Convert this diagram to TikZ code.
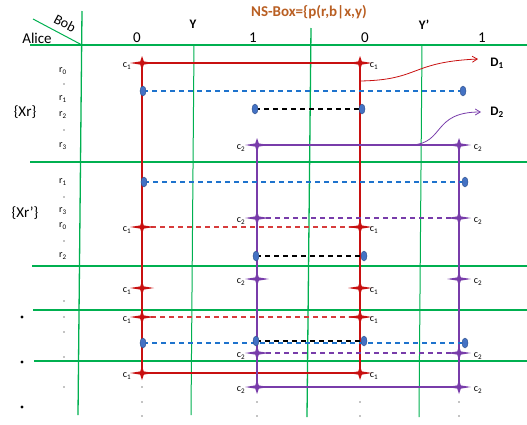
\documentclass[tikz,border=0pt]{standalone}
\usepackage{fontspec}
\setmainfont{Carlito}
\usetikzlibrary{shapes.geometric,arrows.meta,calc}
\definecolor{gr}{RGB}{0,176,80}
\definecolor{rd}{RGB}{200,16,16}
\definecolor{rdd}{RGB}{215,60,60}
\definecolor{pu}{RGB}{120,60,170}
\definecolor{bl}{RGB}{30,115,205}
\definecolor{ell}{RGB}{68,114,196}
\definecolor{ttl}{RGB}{185,95,35}
\tikzset{
  gridline/.style={gr, line width=1.3pt},
  redline/.style={rd, line width=1.8pt},
  purpline/.style={pu, line width=1.8pt},
  reddash/.style={rdd, line width=1.3pt, dash pattern=on 5pt off 4pt},
  purpdash/.style={pu, line width=1.3pt, dash pattern=on 5pt off 4pt},
  bluedash/.style={bl, line width=1.1pt, dash pattern=on 5pt off 4pt},
  blackdash/.style={black, line width=1.1pt, dash pattern=on 5pt off 4pt},
  dotmark/.style={ellipse, fill=ell, draw=ell!70!black, line width=0.4pt, minimum width=6pt, minimum height=10pt, inner sep=0pt},
  lbl/.style={font=\fontsize{10}{12}\selectfont, inner sep=0pt},
  big/.style={font=\fontsize{15}{18}\selectfont, inner sep=0pt},
  bigb/.style={font=\fontsize{13}{15}\selectfont\bfseries, inner sep=0pt},
  rlab/.style={font=\fontsize{10}{12}\selectfont, inner sep=0pt},
  rstar/.pic={\fill[rd] (-12,0) -- (-1.8,-1.6) -- (0,-7) -- (1.8,-1.6) -- (12,0) -- (1.8,1.6) -- (0,7) -- (-1.8,1.6) -- cycle;},
  pstar/.pic={\fill[pu] (-12,0) -- (-1.8,-1.6) -- (0,-7) -- (1.8,-1.6) -- (12,0) -- (1.8,1.6) -- (0,7) -- (-1.8,1.6) -- cycle;},
}
\begin{document}
\begin{tikzpicture}[x=1pt,y=-1pt]
\useasboundingbox (0,0) rectangle (527,424);
% grid
\draw[gridline] (30,45) -- (527,45);
\draw[gridline] (30,162) -- (527,162);
\draw[gridline] (32,266) -- (527,266);
\draw[gridline] (33,310) -- (527,310);
\draw[gridline] (34,361) -- (527,361);
\draw[gridline] (82,11) -- (78,415);
\draw[gridline, line width=1pt] (194,45) -- (191,415);
\draw[gridline] (311,28) -- (307,417);
\draw[gridline, line width=1pt] (422,45) -- (419,417);
\draw[gr, line width=1pt] (33,19) -- (82,45);
% header texts
\node[big] (alice) at (37,38) {Alice};
\node[font=\fontsize{14}{16}\selectfont, inner sep=0pt, rotate=-28] (bob) at (65,23) {Bob};
\node[font=\fontsize{15}{17}\selectfont\bfseries, text=ttl, inner sep=0pt] (title) at (309,12) {NS-Box=\{p(r,b|x,y)};
\node[big] (h0a) at (137,38) {0};
\node[bigb] (hY) at (193,24) {Y};
\node[big] (h1a) at (253,38) {1};
\node[big] (h0b) at (365,38) {0};
\node[bigb] (hYp) at (424,25) {Y’};
\node[big] (h1b) at (482,38) {1};
\node[big] (xr) at (25,112) {\{Xr\}};
\node[big] (xrp) at (25,213) {\{Xr’\}};
% row labels
\node[rlab] (ra0) at (63,71) {r\textsubscript{0}};
\node[rlab] (ra1) at (63,99) {r\textsubscript{1}};
\node[rlab] (ra2) at (63,115) {r\textsubscript{2}};
\node[rlab] (ra3) at (63,146) {r\textsubscript{3}};
\node[rlab] (rb1) at (63,182) {r\textsubscript{1}};
\node[rlab] (rb3) at (63,211) {r\textsubscript{3}};
\node[rlab] (rb0) at (63,226) {r\textsubscript{0}};
\node[rlab] (rb2) at (63,256) {r\textsubscript{2}};
\foreach \yy [count=\i] in {84,130,197,241,301,317,332,357,387} {
  \fill (64,\yy) circle (0.7pt);
}
\foreach \yy [count=\i] in {317,362,407} {
  \fill (22,\yy) circle (1.6pt);
}
\foreach \xx in {142,360} {
  \foreach \yy in {387,402,416} { \fill (\xx,\yy) circle (0.6pt); }
}
\foreach \xx in {257,459} {
  \foreach \yy in {402,416} { \fill (\xx,\yy) circle (0.6pt); }
}
% coordinates
\foreach \yy [count=\i] in {63,227,288,317,373} {
  \coordinate (RL\i) at (142,\yy);
  \coordinate (RR\i) at (360,\yy);
}
\foreach \yy [count=\i] in {145,218,279,353,387} {
  \coordinate (PL\i) at (257,\yy);
  \coordinate (PR\i) at (459,\yy);
}
\coordinate (b1) at (143,91); \coordinate (b2) at (463,91);
\coordinate (k1) at (255,109); \coordinate (k2) at (362,109);
\coordinate (b3) at (144,182); \coordinate (b4) at (465,182);
\coordinate (k3) at (256,256); \coordinate (k4) at (364,256);
\coordinate (b5) at (143,343); \coordinate (b6) at (465,343);
\coordinate (k5) at (256,341); \coordinate (k6) at (364,341);
% frames
\draw[redline] (RL1) -- (RR1) -- (RR5) -- (RL5) -- cycle;
\draw[purpline] (PL1) -- (PR1) -- (PR5) -- (PL5) -- cycle;
% dashed rows
\draw[reddash] (RL2) -- (RR2);
\draw[reddash] (RL4) -- (RR4);
\draw[purpdash] (PL2) -- (PR2);
\draw[purpdash] (PL4) -- (PR4);
\draw[bluedash] (b1) -- (b2);
\draw[bluedash] (b3) -- (b4);
\draw[bluedash] (b5) -- (b6);
\draw[blackdash] (k1) -- (k2);
\draw[blackdash] (k3) -- (k4);
\draw[blackdash] (k5) -- (k6);
% curves
\node[bigb] (D1) at (497,63) {D\textsubscript{1}};
\node[bigb] (D2) at (497,112) {D\textsubscript{2}};
\coordinate (d1s) at (360,81);
\coordinate (d1e) at (478,59);
\coordinate (d2s) at (412,145);
\coordinate (d2e) at (481,112);
\draw[rd, line width=0.8pt, -{Straight Barb[length=5pt,width=6pt]}] (d1s) .. controls (420,80) and (410,62) .. (d1e);
\draw[pu, line width=0.8pt, -{Straight Barb[length=5pt,width=6pt]}] (d2s) .. controls (445,143) and (432,112) .. (d2e);
% stars and labels
\foreach \i in {1,...,5} {
  \pic at (RL\i) {rstar};
  \pic at (RR\i) {rstar};
  \pic at (PL\i) {pstar};
  \pic at (PR\i) {pstar};
  \node[lbl] (cl\i) at ($(RL\i)+(-15,3)$) {c\textsubscript{1}};
  \node[lbl] (cr\i) at ($(RR\i)+(14,3)$) {c\textsubscript{1}};
  \node[lbl] (pl\i) at ($(PL\i)+(-16,3)$) {c\textsubscript{2}};
  \node[lbl] (pr\i) at ($(PR\i)+(19,3)$) {c\textsubscript{2}};
}
% ellipse markers
\foreach \n in {b1,b2,k1,k2,b3,b4,k3,k4,b5,b6,k5,k6} {
  \node[dotmark] (m\n) at (\n) {};
}
\end{tikzpicture}
\end{document}
